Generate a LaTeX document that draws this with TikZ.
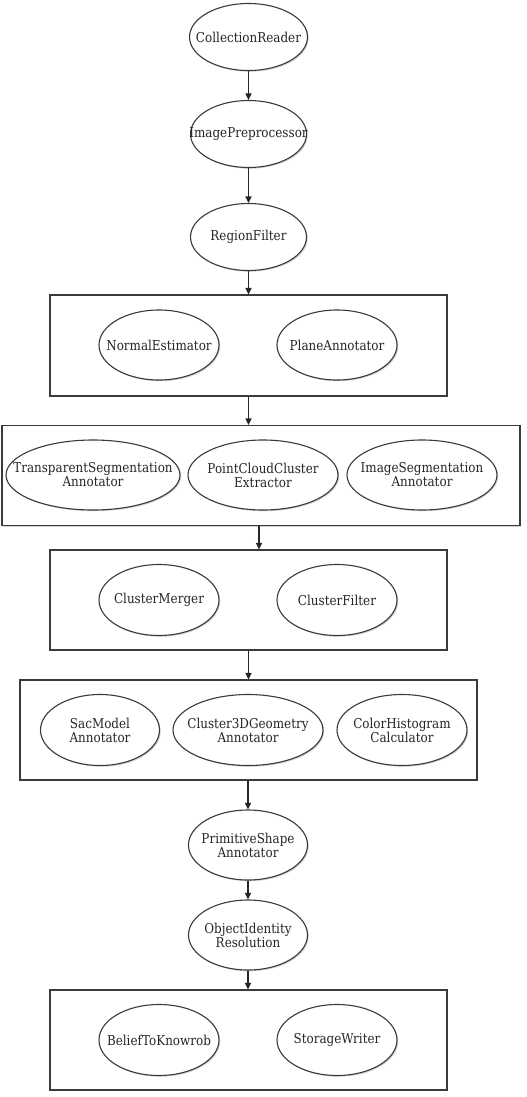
\documentclass[tikz,border=0pt]{standalone}
\usepackage{fontspec}
\setmainfont{DejaVu Serif}[FakeStretch=0.88]
\usetikzlibrary{shapes.geometric,arrows.meta,shadows}
\definecolor{ln}{HTML}{3A3A3A}
\definecolor{tx}{HTML}{262626}
\newcommand{\zw}[1]{\makebox[0pt]{#1}}
\tikzset{
  sh/.style={drop shadow={shadow xshift=1.2pt,shadow yshift=-1.2pt,opacity=0.3,fill=black!60}},
  proc/.style={ellipse,draw=ln,line width=1.1pt,fill=white,sh,inner sep=0pt,
    text=tx,align=center,font=\fontsize{13.6}{14}\selectfont},
  grp/.style={rectangle,draw=ln,line width=1.1pt,fill=white,sh,inner sep=0pt},
  arr/.style={draw=black!85,line width=1.1pt,-{Triangle[length=6.5pt,width=6pt]}}
}
\begin{document}
\begin{tikzpicture}[x=1pt,y=-1pt]
\useasboundingbox (0,0) rectangle (527,1097);
% groups
\node[grp,minimum width=397,minimum height=101] (g1) at (248.5,345.5) {};
\node[grp,minimum width=518,minimum height=100] (g2) at (261,475.5) {};
\node[grp,minimum width=397,minimum height=100] (g3) at (248.5,600) {};
\node[grp,minimum width=457,minimum height=100] (g4) at (248.5,730) {};
\node[grp,minimum width=397,minimum height=100] (g5) at (248.5,1040) {};
% single nodes
\node[proc,minimum width=118,minimum height=67] (cr) at (248.5,37) {\zw{CollectionReader}};
\node[proc,minimum width=116,minimum height=67] (ip) at (248.5,134) {\zw{ImagePreprocessor}};
\node[proc,minimum width=116,minimum height=67] (rf) at (248.5,237) {\zw{RegionFilter}};
\node[proc,minimum width=120,minimum height=70] (ne) at (159,345) {\zw{NormalEstimator}};
\node[proc,minimum width=120,minimum height=70] (pa) at (337,345) {\zw{PlaneAnnotator}};
\node[proc,minimum width=174,minimum height=70] (ts) at (93,475) {\zw{TransparentSegmentation}\\\zw{Annotator}};
\node[proc,minimum width=150,minimum height=70] (pc) at (263,475) {\zw{PointCloudCluster}\\\zw{Extractor}};
\node[proc,minimum width=150,minimum height=70] (is) at (422,475) {\zw{ImageSegmentation}\\\zw{Annotator}};
\node[proc,minimum width=120,minimum height=71] (cm) at (159,600) {\zw{ClusterMerger}};
\node[proc,minimum width=120,minimum height=71] (cf) at (337,600) {\zw{ClusterFilter}};
\node[proc,minimum width=119,minimum height=71] (sm) at (100,730) {\zw{SacModel}\\\zw{Annotator}};
\node[proc,minimum width=150,minimum height=71] (cg) at (248,730) {\zw{Cluster3DGeometry}\\\zw{Annotator}};
\node[proc,minimum width=130,minimum height=71] (ch) at (402,730) {\zw{ColorHistogram}\\\zw{Calculator}};
\node[proc,minimum width=119,minimum height=70] (ps) at (248,845) {\zw{PrimitiveShape}\\\zw{Annotator}};
\node[proc,minimum width=119,minimum height=70] (oi) at (248,935) {\zw{ObjectIdentity}\\\zw{Resolution}};
\node[proc,minimum width=120,minimum height=71] (bk) at (159,1040) {\zw{BeliefToKnowrob}};
\node[proc,minimum width=120,minimum height=71] (sw) at (337,1040) {\zw{StorageWriter}};
% connectors
\draw[arr] (cr) -- (ip);
\draw[arr] (ip) -- (rf);
\draw[arr] (rf.south) -- (rf.south |- g1.north);
\draw[arr] (g1.south) -- (g1.south |- g2.north);
\draw[arr] ([xshift=-2pt]g2.south) -- ([xshift=-2pt]g2.south |- g3.north);
\draw[arr] (g3.south) -- (g3.south |- g4.north);
\draw[arr] (g4.south -| ps.north) -- (ps.north);
\draw[arr] (ps) -- (oi);
\draw[arr] (oi.south) -- (oi.south |- g5.north);
\end{tikzpicture}
\end{document}
